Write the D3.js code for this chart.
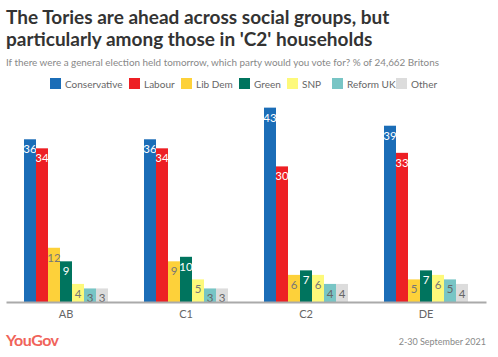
<!DOCTYPE html>
<html><head><meta charset="utf-8">
<script src="https://cdn.jsdelivr.net/npm/d3@7"></script>
<style>body{margin:0;background:#fff}svg{display:block}</style>
</head><body>
<svg id="chart" width="498" height="357"></svg>
<script>
const categories = ["AB", "C1", "C2", "DE"];
const parties = ["Conservative", "Labour", "Lib Dem", "Green", "SNP", "Reform UK", "Other"];
const conservative = [36, 36, 43, 39];
const labour = [34, 34, 30, 33];
const libDem = [12, 9, 6, 5];
const green = [9, 10, 7, 7];
const snp = [4, 5, 6, 6];
const reformUK = [3, 3, 4, 5];
const other = [3, 3, 4, 4];
const colors = ["#1b6db7", "#ed1f24", "#fdd13a", "#00745e", "#fdf97a", "#78c5c5", "#dcdcdc"];
const labelColors = ["#fff", "#fff", "#777", "#fff", "#777", "#666", "#666"];
const series = [conservative, labour, libDem, green, snp, reformUK, other];

const svg = d3.select("#chart");
const font = "Lato, 'Open Sans', sans-serif";

svg.append("text").attr("x", 6).attr("y", 23.5).attr("font-family", font).attr("font-weight", 700)
  .attr("font-size", 19).attr("fill", "#333").text("The Tories are ahead across social groups, but");
svg.append("text").attr("x", 6).attr("y", 46).attr("font-family", font).attr("font-weight", 700)
  .attr("font-size", 19).attr("fill", "#333").text("particularly among those in 'C2' households");
svg.append("text").attr("x", 6).attr("y", 65.5).attr("font-family", font)
  .attr("font-size", 9.9).attr("fill", "#888").text("If there were a general election held tomorrow, which party would you vote for? % of 24,662 Britons");

// legend
const legendX = [50, 129, 181, 239, 287, 332, 396];
const lg = svg.append("g");
parties.forEach((p, i) => {
  lg.append("rect").attr("x", legendX[i]).attr("y", 78).attr("width", 11).attr("height", 11).attr("fill", colors[i]);
  lg.append("text").attr("x", legendX[i] + 15).attr("y", 87.5).attr("font-family", font)
    .attr("font-size", 10).attr("fill", "#666").text(p);
});

const x = d3.scaleBand().domain(categories).range([6, 486]).paddingInner(0).paddingOuter(0);
const xs = d3.scaleBand().domain(parties).range([18, 102]);
const y = d3.scaleLinear().domain([0, 45]).range([302, 302 - 45 * 4.52]);

const groups = svg.append("g").selectAll("g").data(categories).join("g")
  .attr("transform", d => `translate(${x(d)},0)`);

groups.each(function(cat, ci) {
  const g = d3.select(this);
  parties.forEach((p, pi) => {
    const v = series[pi][ci];
    g.append("rect").attr("x", xs(p)).attr("width", xs.bandwidth())
      .attr("y", y(v)).attr("height", y(0) - y(v)).attr("fill", colors[pi]);
    g.append("text").attr("x", xs(p) + xs.bandwidth() / 2).attr("y", y(v) + 14)
      .attr("text-anchor", "middle").attr("font-family", font).attr("font-size", 11.5)
      .attr("fill", labelColors[pi]).text(v);
  });
});

const axis = d3.axisBottom(x).tickSize(0).tickPadding(8);
const ag = svg.append("g").attr("transform", "translate(0,302)").call(axis);
ag.select(".domain").attr("stroke", "#aaa").attr("stroke-width", 2);
ag.selectAll("text").attr("font-family", font).attr("font-size", 11).attr("fill", "#666");

svg.append("text").attr("x", 6).attr("y", 346).attr("font-family", font).attr("font-weight", 700)
  .attr("font-size", 16).attr("fill", "#f0635a").attr("letter-spacing", -0.5).text("YouGov");
svg.append("text").attr("x", 486).attr("y", 345).attr("text-anchor", "end").attr("font-family", font)
  .attr("font-size", 9).attr("fill", "#888").text("2-30 September 2021");
</script>
</body></html>
